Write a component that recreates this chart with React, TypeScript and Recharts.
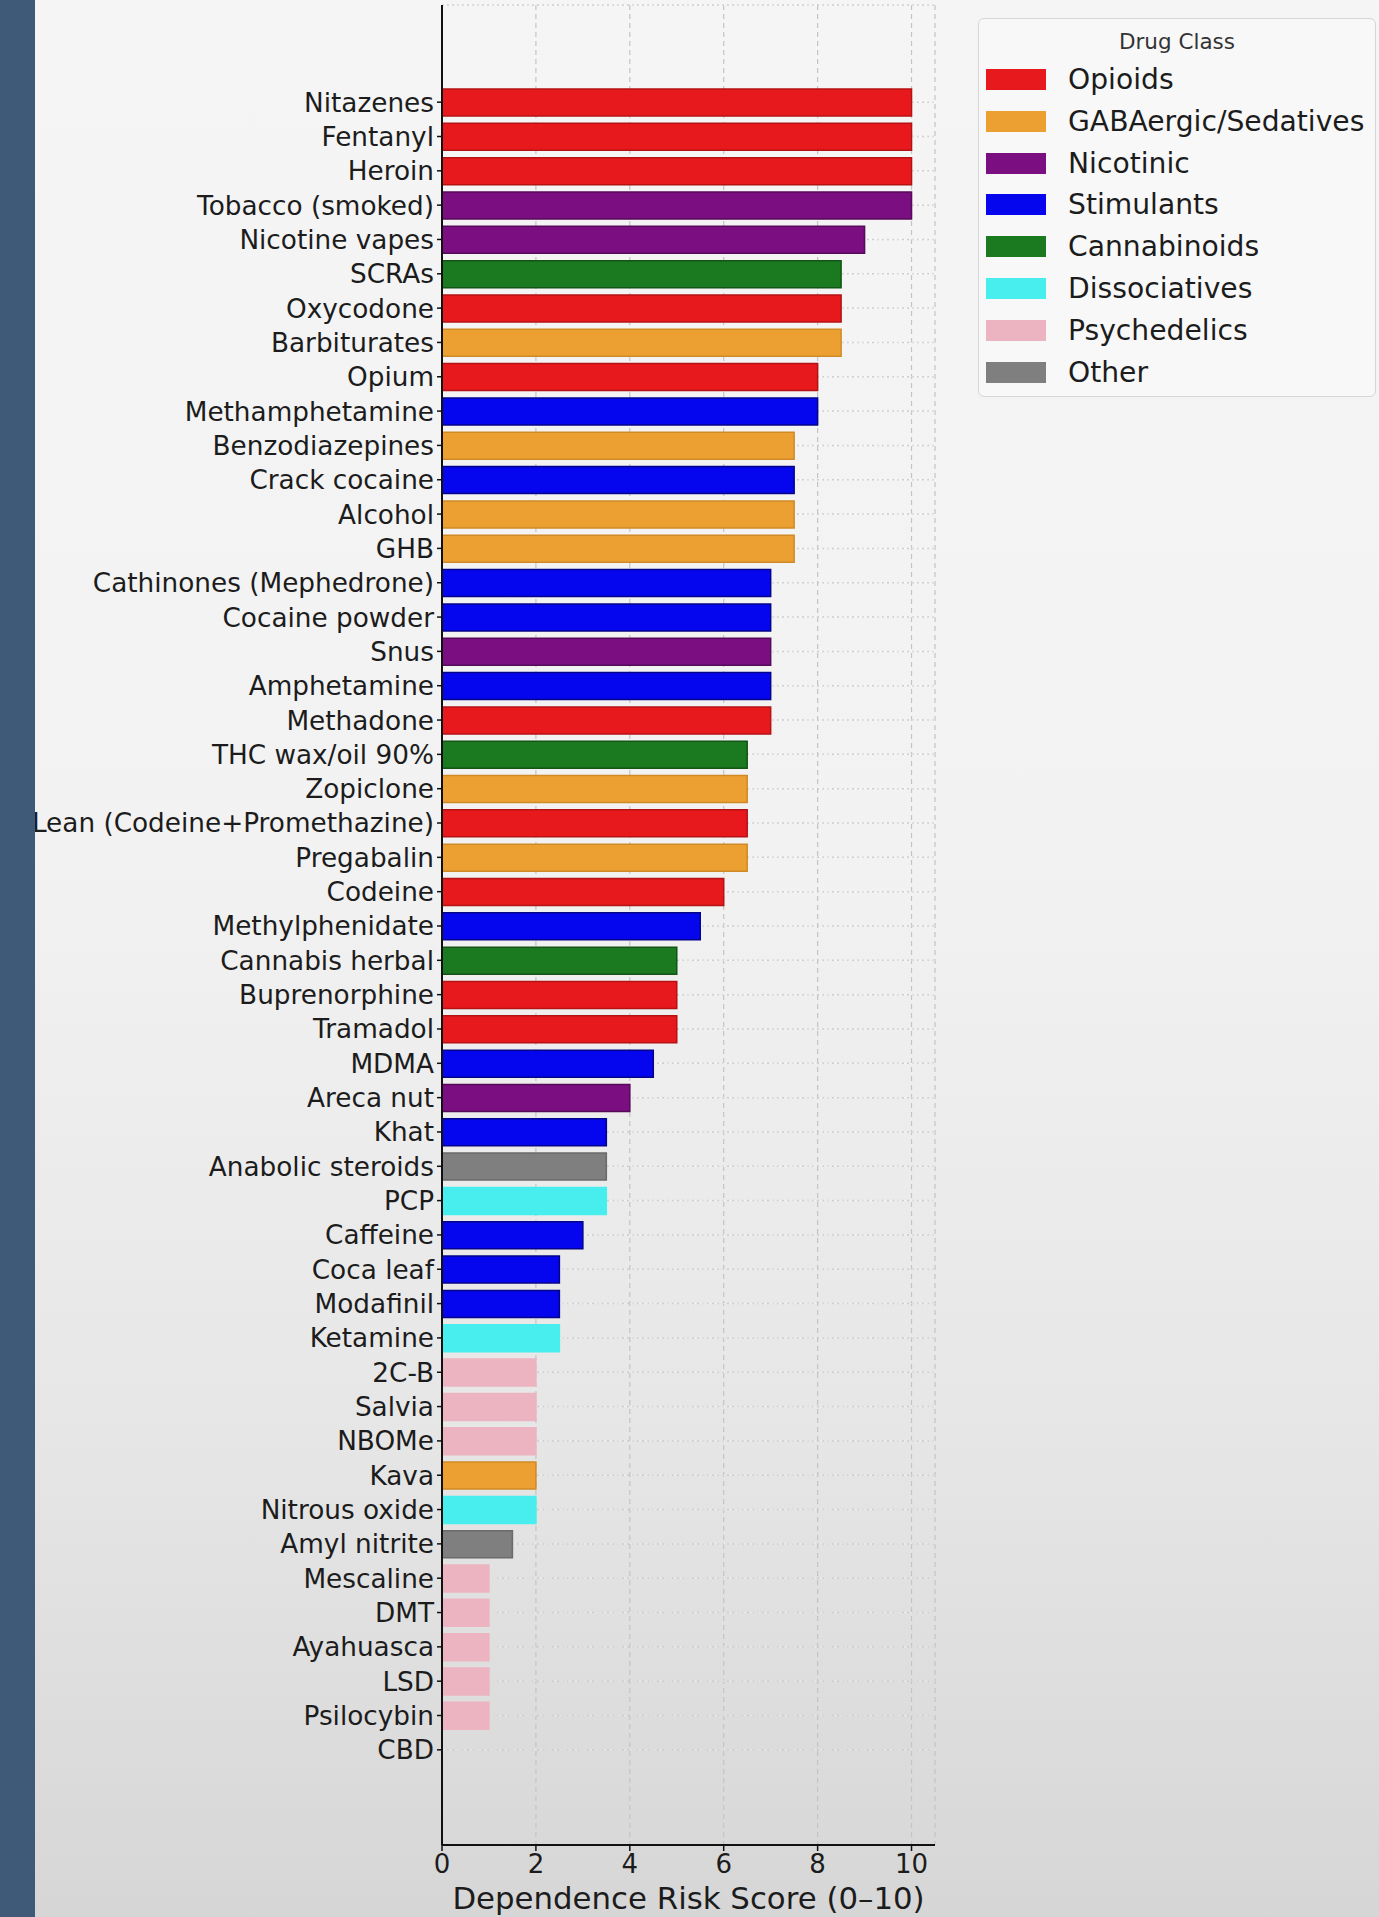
import { Bar, BarChart, CartesianGrid, Cell, Legend, XAxis, YAxis } from "recharts";

const drugs = [
  "Nitazenes", "Fentanyl", "Heroin", "Tobacco (smoked)", "Nicotine vapes", "SCRAs", "Oxycodone",
  "Barbiturates", "Opium", "Methamphetamine", "Benzodiazepines", "Crack cocaine", "Alcohol", "GHB",
  "Cathinones (Mephedrone)", "Cocaine powder", "Snus", "Amphetamine", "Methadone", "THC wax/oil 90%",
  "Zopiclone", "Lean (Codeine+Promethazine)", "Pregabalin", "Codeine", "Methylphenidate",
  "Cannabis herbal", "Buprenorphine", "Tramadol", "MDMA", "Areca nut", "Khat", "Anabolic steroids",
  "PCP", "Caffeine", "Coca leaf", "Modafinil", "Ketamine", "2C-B", "Salvia", "NBOMe", "Kava",
  "Nitrous oxide", "Amyl nitrite", "Mescaline", "DMT", "Ayahuasca", "LSD", "Psilocybin", "CBD",
];

const scores = [
  10, 10, 10, 10, 9, 8.5, 8.5,
  8.5, 8, 8, 7.5, 7.5, 7.5, 7.5,
  7, 7, 7, 7, 7, 6.5,
  6.5, 6.5, 6.5, 6, 5.5,
  5, 5, 5, 4.5, 4, 3.5, 3.5,
  3.5, 3, 2.5, 2.5, 2.5, 2, 2, 2, 2,
  2, 1.5, 1, 1, 1, 1, 1, 0,
];

const drugClasses = [
  "Opioids", "Opioids", "Opioids", "Nicotinic", "Nicotinic", "Cannabinoids", "Opioids",
  "GABAergic/Sedatives", "Opioids", "Stimulants", "GABAergic/Sedatives", "Stimulants",
  "GABAergic/Sedatives", "GABAergic/Sedatives",
  "Stimulants", "Stimulants", "Nicotinic", "Stimulants", "Opioids", "Cannabinoids",
  "GABAergic/Sedatives", "Opioids", "GABAergic/Sedatives", "Opioids", "Stimulants",
  "Cannabinoids", "Opioids", "Opioids", "Stimulants", "Nicotinic", "Stimulants", "Other",
  "Dissociatives", "Stimulants", "Stimulants", "Stimulants", "Dissociatives", "Psychedelics",
  "Psychedelics", "Psychedelics", "GABAergic/Sedatives",
  "Dissociatives", "Other", "Psychedelics", "Psychedelics", "Psychedelics", "Psychedelics",
  "Psychedelics", "Cannabinoids",
];

const legendClasses = [
  "Opioids", "GABAergic/Sedatives", "Nicotinic", "Stimulants",
  "Cannabinoids", "Dissociatives", "Psychedelics", "Other",
];

const xTicks = [0, 2, 4, 6, 8, 10];

const CLASS_COLORS: Record<string, string> = {
  Opioids: "#e8191c",
  "GABAergic/Sedatives": "#eca032",
  Nicotinic: "#7b0e80",
  Stimulants: "#0606ee",
  Cannabinoids: "#1b7a1f",
  Dissociatives: "#48eeee",
  Psychedelics: "#ecb4c0",
  Other: "#7f7f7f",
};

const CLASS_EDGES: Record<string, string> = {
  Opioids: "#b51214",
  "GABAergic/Sedatives": "#d08a25",
  Nicotinic: "#560a5a",
  Stimulants: "#04048a",
  Cannabinoids: "#125515",
  Dissociatives: "#48eeee",
  Psychedelics: "#ecb4c0",
  Other: "#6a6a6a",
};

const FONT = "'DejaVu Sans', Verdana, sans-serif";

const chartData = drugs.map((name, i) => ({
  name,
  score: scores[i],
  drugClass: drugClasses[i],
}));

function DrugTick(props: any) {
  const { x, y, payload } = props;
  return (
    <text x={x} y={y} dy="0.36em" textAnchor="end" fontSize={26.3} fontFamily={FONT} fill="#1c1c1c">
      {payload.value}
    </text>
  );
}

function ClassLegend() {
  return (
    <div
      style={{
        position: "relative",
        width: 398,
        height: 379,
        boxSizing: "border-box",
        border: "1.5px solid #d6d6d6",
        borderRadius: 6,
        background: "rgba(247,247,247,0.92)",
        fontFamily: FONT,
      }}
    >
      <div
        style={{
          position: "absolute",
          top: 9,
          left: 0,
          width: "100%",
          textAlign: "center",
          fontSize: 21.5,
          color: "#333",
          lineHeight: "28px",
        }}
      >
        Drug Class
      </div>
      {legendClasses.map((c, i) => (
        <div
          key={c}
          style={{
            position: "absolute",
            left: 7,
            top: 60.7 + i * 41.76 - 21,
            height: 42,
            display: "flex",
            alignItems: "center",
          }}
        >
          <div style={{ width: 60, height: 21, background: CLASS_COLORS[c] }} />
          <span style={{ marginLeft: 22, fontSize: 28.2, color: "#1c1c1c", whiteSpace: "nowrap" }}>{c}</span>
        </div>
      ))}
    </div>
  );
}

export default function App() {
  return (
    <div
      style={{
        position: "absolute",
        left: 0,
        top: 0,
        width: 1379,
        height: 1917,
        overflow: "hidden",
        background: "linear-gradient(180deg, #f5f5f5 0%, #f2f2f2 45%, #e6e6e6 75%, #d6d6d6 100%)",
      }}
    >
      <BarChart
        width={1379}
        height={1917}
        data={chartData}
        layout="vertical"
        margin={{ top: 5, right: 444, bottom: 0, left: 0 }}
        barSize={27}
      >
        <CartesianGrid
          horizontal={false}
          vertical
          stroke="#c4c4c4"
          strokeDasharray="5 4"
          strokeWidth={1.2}
        />
        <CartesianGrid horizontal vertical={false} stroke="#cdcdcd" strokeDasharray="2 3" strokeWidth={1.5} />
        <XAxis
          type="number"
          domain={[0, 10.5]}
          ticks={xTicks}
          allowDataOverflow
          height={72}
          tickSize={6}
          tickMargin={4}
          stroke="#111"
          axisLine={{ stroke: "#111", strokeWidth: 2 }}
          tickLine={{ stroke: "#111", strokeWidth: 1.5 }}
          tick={{ fontSize: 26, fill: "#1c1c1c", fontFamily: FONT }}
          label={{
            value: "Dependence Risk Score (0–10)",
            position: "insideBottom",
            offset: 8,
            fontSize: 30.8,
            fill: "#1c1c1c",
            fontFamily: FONT,
          }}
        />
        <YAxis
          type="category"
          dataKey="name"
          width={442}
          interval={0}
          tickSize={5}
          tickMargin={3}
          padding={{ top: 80, bottom: 78 }}
          axisLine={{ stroke: "#111", strokeWidth: 2 }}
          tickLine={{ stroke: "#111", strokeWidth: 1.5 }}
          tick={<DrugTick />}
        />
        <Legend
          layout="horizontal"
          verticalAlign="middle"
          align="center"
          wrapperStyle={{ position: "absolute", left: 978, top: 18, width: 398, height: 379 }}
          content={() => <ClassLegend />}
        />
        <Bar dataKey="score" isAnimationActive={false} strokeWidth={1.5}>
          {chartData.map((d) => (
            <Cell key={d.name} fill={CLASS_COLORS[d.drugClass]} stroke={CLASS_EDGES[d.drugClass]} />
          ))}
        </Bar>
        <CartesianGrid
          horizontal
          vertical={false}
          stroke="rgba(255,255,255,0.35)"
          strokeDasharray="3 4"
          strokeWidth={1.2}
        />
      </BarChart>
      <div
        style={{
          position: "absolute",
          left: 0,
          top: 0,
          width: 35,
          height: 1917,
          background: "#3e5a78",
        }}
      />
    </div>
  );
}
